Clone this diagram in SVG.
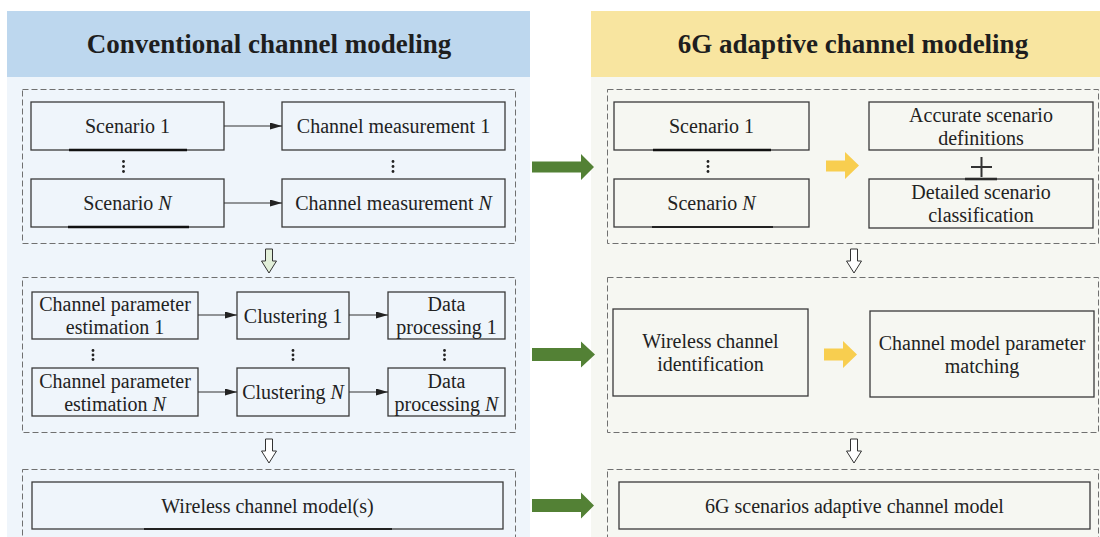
<svg xmlns="http://www.w3.org/2000/svg" width="1100" height="537" viewBox="0 0 1100 537">
<defs>
<style>
.box{fill:none;stroke:#3a3a3a;stroke-width:1.3}
.dash{fill:none;stroke:#707070;stroke-width:1;stroke-dasharray:6 3}
.t{font-family:"Liberation Serif","Times New Roman",serif;font-size:20px;fill:#222;text-anchor:middle}
.title{font-family:"Liberation Serif","Times New Roman",serif;font-size:27px;font-weight:bold;fill:#1e1e1e;text-anchor:middle}
.conn{stroke:#333;stroke-width:1.2;fill:none;marker-end:url(#ah)}
.ul{stroke:#111;stroke-width:2.5}
.dot{fill:#222}
.green{fill:#538135}
.yellow{fill:#F8CE4F}
.hollow{stroke:#333;stroke-width:1;fill:#fff}
.plus{stroke:#333;stroke-width:2}
</style>
<marker id="ah" markerUnits="userSpaceOnUse" markerWidth="12" markerHeight="7" refX="12" refY="3.5" orient="auto">
<path d="M0,0 L12,3.5 L0,7 Z" fill="#222"/>
</marker>
</defs>

<!-- panels -->
<g id="panel-left">
<rect x="7" y="77" width="523" height="460" fill="#EFF5FB"/>
<rect x="7" y="11" width="523" height="66" fill="#BDD7EE"/>
<text class="title" x="269" y="53">Conventional channel modeling</text>
</g>
<g id="panel-right">
<rect x="591" y="77" width="509" height="460" fill="#F6F7F2"/>
<rect x="591" y="11" width="509" height="66" fill="#F8E5A0"/>
<text class="title" x="853" y="53">6G adaptive channel modeling</text>
</g>

<!-- dashed groups -->
<g id="groups">
<rect class="dash" x="22.5" y="89.5" width="493" height="154"/>
<rect class="dash" x="22.5" y="277.5" width="493" height="155"/>
<rect class="dash" x="22.5" y="469.5" width="493" height="80"/>
<rect class="dash" x="607.5" y="89.5" width="491" height="154"/>
<rect class="dash" x="607.5" y="277.5" width="491" height="155"/>
<rect class="dash" x="607.5" y="469.5" width="491" height="80"/>
</g>

<!-- left nodes -->
<g id="L-scenario1">
<rect class="box" x="31" y="102" width="193" height="48"/>
<line class="ul" x1="69" y1="150" x2="187" y2="150"/>
<text class="t" x="127.5" y="133">Scenario 1</text>
</g>
<g id="L-scenarioN">
<rect class="box" x="31" y="179" width="193" height="48"/>
<line class="ul" x1="68" y1="227" x2="189" y2="227"/>
<text class="t" x="127.5" y="210">Scenario <tspan font-style="italic">N</tspan></text>
</g>
<g id="L-meas1">
<rect class="box" x="282" y="102" width="223" height="48"/>
<text class="t" x="393.5" y="133">Channel measurement 1</text>
</g>
<g id="L-measN">
<rect class="box" x="282" y="179" width="223" height="48"/>
<text class="t" x="393.5" y="210">Channel measurement <tspan font-style="italic">N</tspan></text>
</g>
<g id="L-dots1">
<circle class="dot" cx="123.5" cy="161.5" r="1.4"/><circle class="dot" cx="123.5" cy="166.5" r="1.4"/><circle class="dot" cx="123.5" cy="171.5" r="1.4"/>
<circle class="dot" cx="393" cy="161.5" r="1.4"/><circle class="dot" cx="393" cy="166.5" r="1.4"/><circle class="dot" cx="393" cy="171.5" r="1.4"/>
</g>

<g id="L-est1">
<rect class="box" x="32" y="292" width="166" height="47"/>
<text class="t" x="115" y="311">Channel parameter</text>
<text class="t" x="115" y="334">estimation 1</text>
</g>
<g id="L-clu1">
<rect class="box" x="237" y="292" width="112" height="47"/>
<text class="t" x="293" y="322.5">Clustering 1</text>
</g>
<g id="L-dat1">
<rect class="box" x="388" y="292" width="117" height="47"/>
<text class="t" x="446.5" y="311">Data</text>
<text class="t" x="446.5" y="334">processing 1</text>
</g>
<g id="L-estN">
<rect class="box" x="32" y="368" width="166" height="48"/>
<text class="t" x="115" y="387.5">Channel parameter</text>
<text class="t" x="115" y="410.5">estimation <tspan font-style="italic">N</tspan></text>
</g>
<g id="L-cluN">
<rect class="box" x="237" y="368" width="112" height="48"/>
<text class="t" x="293" y="399">Clustering <tspan font-style="italic">N</tspan></text>
</g>
<g id="L-datN">
<rect class="box" x="388" y="368" width="117" height="48"/>
<text class="t" x="446.5" y="387.5">Data</text>
<text class="t" x="446.5" y="410.5">processing <tspan font-style="italic">N</tspan></text>
</g>
<g id="L-dots2">
<circle class="dot" cx="93" cy="350.5" r="1.4"/><circle class="dot" cx="93" cy="355" r="1.4"/><circle class="dot" cx="93" cy="359.5" r="1.4"/>
<circle class="dot" cx="293" cy="350.5" r="1.4"/><circle class="dot" cx="293" cy="355" r="1.4"/><circle class="dot" cx="293" cy="359.5" r="1.4"/>
<circle class="dot" cx="444.5" cy="350.5" r="1.4"/><circle class="dot" cx="444.5" cy="355" r="1.4"/><circle class="dot" cx="444.5" cy="359.5" r="1.4"/>
</g>

<g id="L-model">
<rect class="box" x="32" y="482" width="471" height="47"/>
<line x1="144" y1="529" x2="392" y2="529" stroke="#222" stroke-width="1.8"/>
<text class="t" x="267.5" y="512.5">Wireless channel model(s)</text>
</g>

<!-- right nodes -->
<g id="R-scenario1">
<rect class="box" x="614" y="102" width="195" height="48"/>
<line class="ul" x1="653" y1="150" x2="771" y2="150"/>
<text class="t" x="711.5" y="133">Scenario 1</text>
</g>
<g id="R-scenarioN">
<rect class="box" x="614" y="179" width="195" height="48"/>
<line x1="652" y1="227" x2="773" y2="227" stroke="#222" stroke-width="1.8"/>
<text class="t" x="711.5" y="210">Scenario <tspan font-style="italic">N</tspan></text>
</g>
<g id="R-dots">
<circle class="dot" cx="708" cy="161.5" r="1.4"/><circle class="dot" cx="708" cy="166.5" r="1.4"/><circle class="dot" cx="708" cy="171.5" r="1.4"/>
</g>
<g id="R-accurate">
<rect class="box" x="869" y="102" width="224" height="48"/>
<text class="t" x="981" y="121.5">Accurate scenario</text>
<text class="t" x="981" y="144.5">definitions</text>
</g>
<g id="R-plus">
<line class="plus" x1="971" y1="167" x2="992" y2="167"/>
<line class="plus" x1="981.5" y1="157" x2="981.5" y2="177"/>
<line class="ul" x1="965" y1="179" x2="997" y2="179"/>
</g>
<g id="R-detailed">
<rect class="box" x="869" y="179" width="224" height="49"/>
<text class="t" x="981" y="199">Detailed scenario</text>
<text class="t" x="981" y="222">classification</text>
</g>
<g id="R-identification">
<rect class="box" x="613" y="309" width="195" height="87"/>
<text class="t" x="710.5" y="348">Wireless channel</text>
<text class="t" x="710.5" y="371">identification</text>
</g>
<g id="R-matching">
<rect class="box" x="870" y="311" width="224" height="86"/>
<text class="t" x="982" y="349.5">Channel model parameter</text>
<text class="t" x="982" y="372.5">matching</text>
</g>
<g id="R-model">
<rect class="box" x="619" y="482" width="471" height="47"/>
<text class="t" x="854.5" y="512.5">6G scenarios adaptive channel model</text>
</g>

<!-- connectors -->
<g id="connectors">
<line class="conn" x1="224" y1="126" x2="282" y2="126"/>
<line class="conn" x1="224" y1="203" x2="282" y2="203"/>
<line class="conn" x1="198" y1="315" x2="237" y2="315"/>
<line class="conn" x1="349" y1="315" x2="388" y2="315"/>
<line class="conn" x1="198" y1="392" x2="237" y2="392"/>
<line class="conn" x1="349" y1="392" x2="388" y2="392"/>

<path class="hollow" d="M265.5,249 H272.5 V261 H276.5 L269,273 L261.5,261 H265.5 Z" style="fill:#E2EFD9"/>
<path class="hollow" d="M265.5,439 H272.5 V451 H276.5 L269,463 L261.5,451 H265.5 Z"/>
<path class="hollow" d="M850.5,249 H857.5 V261 H861.5 L854,273 L846.5,261 H850.5 Z"/>
<path class="hollow" d="M850.5,439 H857.5 V451 H861.5 L854,463 L846.5,451 H850.5 Z"/>

<polygon class="green" points="532,161.5 581,161.5 581,154 594,167 581,180 581,172.5 532,172.5"/>
<polygon class="green" points="532,348 581,348 581,341.5 595,354.5 581,367.5 581,361 532,361"/>
<polygon class="green" points="532,499 581,499 581,492.5 594,505.5 581,518.5 581,512 532,512"/>

<polygon class="yellow" points="826,160.5 845,160.5 845,152 859,165.5 845,179 845,171.5 826,171.5"/>
<polygon class="yellow" points="824,348.5 843,348.5 843,341 857,354.5 843,368 843,360.5 824,360.5"/>
</g>
</svg>
